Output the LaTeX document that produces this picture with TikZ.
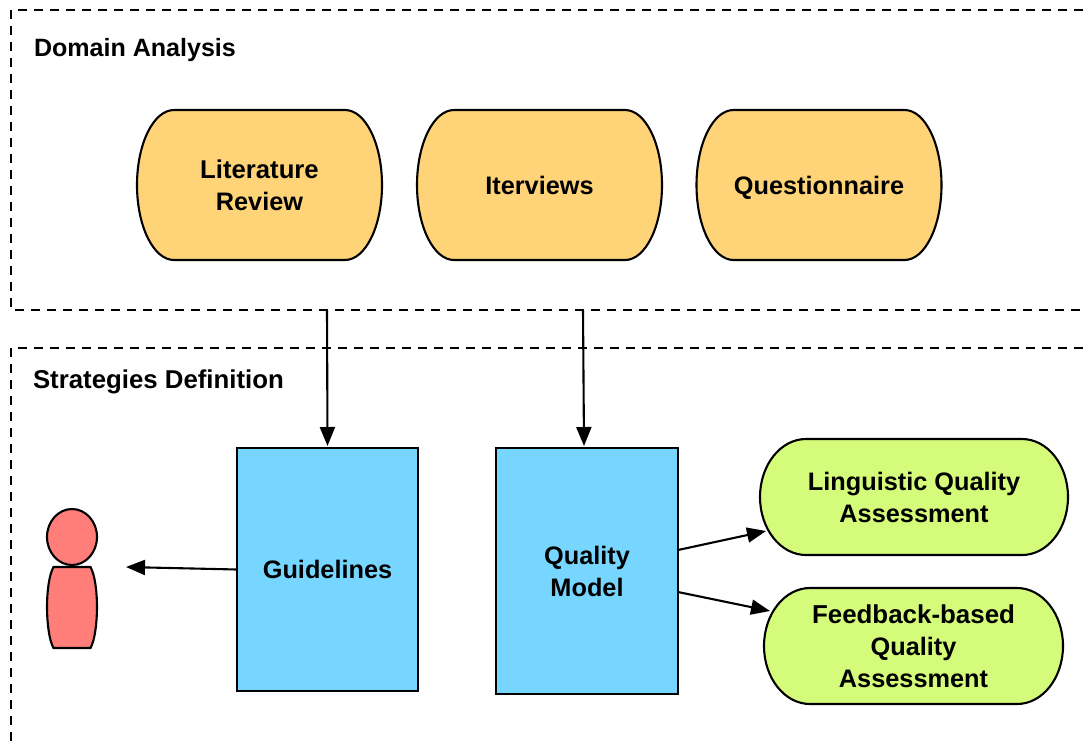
\documentclass[tikz,border=0pt]{standalone}
\usepackage{fontspec}
\setmainfont{Liberation Sans}
\usetikzlibrary{arrows.meta}
\definecolor{orangefill}{HTML}{FFD479}
\definecolor{bluefill}{HTML}{76D6FF}
\definecolor{greenfill}{HTML}{D4FB79}
\definecolor{redfill}{HTML}{FF7E79}
\newcommand{\dn}{\rule{0pt}{19.2pt}}
\newcommand{\wider}[1]{{\fontsize{25.7}{32}\selectfont #1}}
\tikzset{
  outline/.style={draw=black,line width=2.1pt},
  label/.style={font=\fontsize{25.3}{32}\selectfont\bfseries,align=center,inner sep=0pt,outer sep=0pt,text=black},
  region/.style={draw=none,inner sep=0pt,outer sep=0pt},
  frame/.style={draw=black,line width=2.1pt,dash pattern=on 9pt off 7pt},
  doc/.style={label,outline,minimum width=#1,fill=bluefill},
  link/.style={draw=black,line width=2.1pt,-{Triangle[length=19pt,width=15pt]}}
}
% name, cx, cy, w, h, rx, fill, text
\newcommand{\pillnode}[8]{%
  \path[outline,fill=#7]
    ({#2-#4/2+#6},{#3-#5/2})
    arc[start angle=90,end angle=270,x radius=#6pt,y radius=#5/2*1pt]
    -- ({#2+#4/2-#6},{#3+#5/2})
    arc[start angle=270,end angle=450,x radius=#6pt,y radius=#5/2*1pt]
    -- cycle;
  \node[label,minimum width=#4pt,minimum height=#5pt] (#1) at (#2,#3) {#8};
}
\begin{document}
\begin{tikzpicture}[x=1pt,y=-1pt]
\useasboundingbox (0,0) rectangle (1083,745);
\fill[white] (0,0) rectangle (1083,745);
% containers
\draw[frame] (1083,10) -- (11,10) -- (11,310) -- (1083,310);
\draw[frame] (1083,348) -- (11,348) -- (11,745);
\node[region,minimum width=1072pt,minimum height=300pt] (dom) at (547,160) {};
\node[label,anchor=base west] (domtitle) at (34,56) {\fontsize{25.05}{32}\selectfont Domain Analysis};
\node[label,anchor=base west] (strtitle) at (33,388) {\fontsize{25.8}{32}\selectfont Strategies Definition};
% top row
\pillnode{lit}{259.5}{185}{245}{150}{37}{orangefill}{\dn\wider{Literature}\\Review}
\pillnode{itv}{539.5}{185}{245}{150}{37}{orangefill}{\dn Iterviews}
\pillnode{que}{819}{185}{245}{150}{37}{orangefill}{\dn\smash{Questionnaire}}
% documents
\node[doc=181pt,minimum height=243pt] (gui) at (327.5,569.5) {\dn Guidelines};
\node[doc=182pt,minimum height=246pt] (qm) at (587,571) {\dn Quality\\Model};
% assessments
\pillnode{ling}{914}{497}{308}{116}{46}{greenfill}{\dn Linguistic Quality\\Assessment}
\pillnode{fb}{913.5}{646}{299}{116}{46}{greenfill}{\dn{\fontsize{25.9}{32}\selectfont Feedback-based}\\Quality\\Assessment}
% person
\node[region,minimum width=50pt,minimum height=137pt] (person) at (72,580.5) {};
\draw[outline,fill=redfill] (53.5,567) -- (90.5,567)
  .. controls (95,575) and (97,592) .. (97,607)
  .. controls (97,622) and (95,640) .. (90.5,648)
  -- (53.5,648)
  .. controls (49,640) and (47,622) .. (47,607)
  .. controls (47,592) and (49,575) .. (53.5,567) -- cycle;
\draw[outline,fill=redfill] (72,537) ellipse[x radius=25pt,y radius=28pt];
% connectors
\draw[link] ([xshift=-220pt]dom.south) -- ([yshift=2pt]gui.north);
\draw[link] ([xshift=36pt]dom.south) -- ([xshift=-3pt,yshift=2pt]qm.north);
\draw[link] (gui.west) -- ([xshift=29pt,yshift=13.5pt]person.east);
\draw[link] ([yshift=21pt]qm.east) -- ([xshift=6pt,yshift=-34pt]ling.west);
\draw[link] ([yshift=-21pt]qm.east) -- ([xshift=6pt,yshift=35pt]fb.west);
\end{tikzpicture}
\end{document}
